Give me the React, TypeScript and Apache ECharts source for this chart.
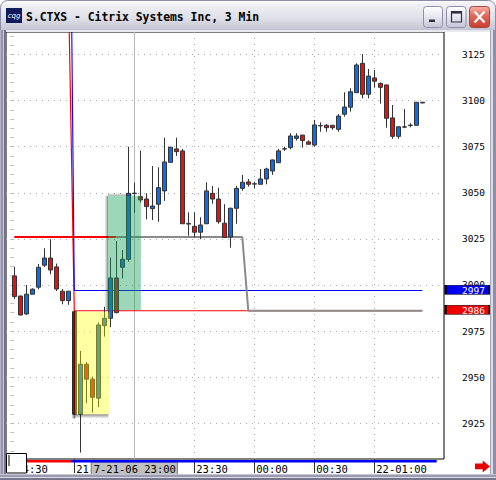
import React, { useEffect, useRef } from 'react';
import * as echarts from 'echarts';

const MONO = '"DejaVu Sans Mono", "Liberation Mono", monospace';

// S.CTXS 3-minute bars, one row per bar: [open, close, low, high]
const bars: number[][] = [
  [3004.9, 2993.7, 2992.4, 3009.8],
  [2994.0, 2983.7, 2983.5, 2994.2],
  [2984.3, 2995.0, 2983.7, 3000.0],
  [2995.0, 2997.7, 2995.0, 2998.2],
  [2998.8, 3009.6, 2997.7, 3011.4],
  [3010.7, 3014.6, 3009.8, 3019.9],
  [3014.6, 3008.1, 3005.8, 3024.8],
  [3009.8, 2997.8, 2996.7, 3011.6],
  [2996.6, 2991.5, 2989.5, 2997.8],
  [2991.5, 2996.6, 2989.2, 2996.6],
  [2985.5, 2929.9, 2929.5, 2986.0],
  [2929.9, 2957.0, 2909.1, 2964.2],
  [2957.0, 2948.9, 2935.8, 2958.1],
  [2948.9, 2939.1, 2930.8, 2950.3],
  [2938.6, 2978.3, 2933.7, 2979.6],
  [2977.9, 2981.9, 2972.0, 2988.2],
  [2981.9, 3003.8, 2977.1, 3014.8],
  [3003.8, 2985.0, 2984.6, 3023.9],
  [3009.6, 3013.9, 3003.6, 3019.0],
  [3013.9, 3049.7, 3012.6, 3075.0],
  [3049.8, 3049.6, 3039.2, 3055.5],
  [3047.9, 3046.1, 3044.6, 3072.8],
  [3046.6, 3042.5, 3035.6, 3049.7],
  [3041.4, 3042.8, 3035.2, 3064.5],
  [3043.8, 3052.8, 3034.3, 3063.8],
  [3051.0, 3066.7, 3045.6, 3079.9],
  [3066.5, 3074.7, 3066.4, 3074.9],
  [3073.8, 3072.3, 3070.0, 3079.9],
  [3072.7, 3033.2, 3033.2, 3073.8],
  [3033.4, 3033.0, 3026.7, 3039.4],
  [3031.8, 3028.6, 3025.7, 3039.4],
  [3028.6, 3032.5, 3024.8, 3036.7],
  [3033.2, 3051.0, 3033.0, 3055.7],
  [3049.7, 3046.6, 3044.1, 3053.7],
  [3046.6, 3034.3, 3033.2, 3052.8],
  [3033.5, 3025.7, 3025.7, 3043.8],
  [3026.0, 3041.6, 3020.2, 3041.9],
  [3041.6, 3052.4, 3033.2, 3053.7],
  [3052.4, 3055.7, 3051.1, 3059.7],
  [3055.9, 3054.6, 3053.3, 3057.5],
  [3054.9, 3054.7, 3052.4, 3056.0],
  [3054.6, 3057.5, 3054.6, 3062.9],
  [3057.5, 3062.9, 3054.6, 3063.6],
  [3061.8, 3067.8, 3059.7, 3068.0],
  [3066.3, 3072.7, 3066.3, 3073.8],
  [3073.9, 3073.7, 3072.7, 3075.0],
  [3074.5, 3080.8, 3073.6, 3082.3],
  [3079.5, 3080.8, 3078.3, 3082.3],
  [3081.3, 3078.3, 3074.5, 3081.3],
  [3077.6, 3076.3, 3076.3, 3078.5],
  [3075.9, 3086.8, 3075.0, 3089.5],
  [3086.5, 3086.3, 3083.1, 3088.2],
  [3086.6, 3085.3, 3083.1, 3087.3],
  [3086.6, 3085.3, 3084.2, 3086.8],
  [3084.4, 3091.6, 3083.1, 3092.7],
  [3092.6, 3096.5, 3091.3, 3104.5],
  [3096.4, 3104.8, 3094.0, 3106.7],
  [3104.3, 3119.3, 3104.3, 3120.2],
  [3120.2, 3103.4, 3101.2, 3125.3],
  [3103.4, 3113.3, 3101.2, 3117.1],
  [3112.3, 3110.5, 3107.0, 3116.6],
  [3109.3, 3107.2, 3098.3, 3109.9],
  [3108.5, 3090.4, 3085.3, 3108.5],
  [3090.6, 3080.6, 3079.2, 3097.6],
  [3080.6, 3085.8, 3079.3, 3086.0],
  [3085.8, 3085.6, 3085.0, 3095.4],
  [3086.7, 3086.5, 3085.5, 3087.7],
  [3086.6, 3099.1, 3086.5, 3099.2],
  [3099.1, 3098.7, 3098.6, 3099.2],
];

// time scale: bar index of each tick and its caption
const timeTicks = [0, 10, 30, 40, 50, 60];
const timeLabels = ['04:30', '21-22:30', '23:30', '00:00', '00:30', '22-01:00'];
const gridTimeTicks = [30, 40, 50, 60];

// price scale
const priceTicks = [2925, 2950, 2975, 3000, 3025, 3050, 3075, 3100, 3125];
const priceMin = 2905.6;
const priceMax = 3137.2;
const priceStep = 5;

// study lines, vertices as [bar, price]
const entryLevel = [[0, 3026], [17, 3026]];
const trailingStop = [[17, 3026], [38, 3026], [39, 2986], [68, 2986]];
const upperLevel = [[9, 3330], [10, 2997], [68, 2997]];
const lowerLevel = [[9, 3166], [10, 2986], [68, 2986]];
const upperTag = 2997;
const lowerTag = 2986;

// crosshair
const cursorBar = 20;
const cursorText = '7-21-06 23:00';

// highlighted zones: [barFrom, barTo, priceTop, priceBottom]
const yellowZone = [10.15, 15.9, 2985.5, 2929.9];
const greenZone = [15.62, 21.1, 3048.4, 2986.4];

const title = 'S.CTXS - Citrix Systems Inc, 3 Min';

const grad = (x2: number, y2: number, stops: [number, string][]) => ({
  type: 'linear', x: 0, y: 0, x2, y2,
  colorStops: stops.map(([offset, color]) => ({ offset, color })),
});

const area = (x0: number, x1: number, y0: number, y1: number, color: any) => [
  { xAxis: x0, yAxis: y0, itemStyle: { color } },
  { xAxis: x1, yAxis: y1 },
];

function buildOption() {
  const minorTicks: number[] = [];
  for (let v = 2910; v <= 3135; v += priceStep) minorTicks.push(v);

  const dotted = { type: [1, 5], color: '#a9a9a9', width: 1 };

  const [yx0, yx1, yTop, yBot] = yellowZone;
  const [gx0, gx1, gTop, gBot] = greenZone;

  const zones = [
    // soft edges cast by the highlight boxes
    area(yx0 - 0.62, yx0, yTop, yBot - 2.3,
      grad(1, 0, [[0, 'rgba(0,0,0,0)'], [0.55, 'rgba(0,0,0,0.35)'], [1, 'rgba(0,0,0,0.7)']])),
    area(yx0, yx1 - 0.2, yBot, yBot - 2.3,
      grad(0, 1, [[0, 'rgba(0,0,0,0.45)'], [1, 'rgba(0,0,0,0)']])),
    area(gx0 - 0.62, gx0, gTop, gBot,
      grad(1, 0, [[0, 'rgba(0,0,0,0)'], [0.6, 'rgba(0,0,0,0.22)'], [1, 'rgba(0,0,0,0.5)']])),
    area(gx0, gx1 - 1.5, gTop + 1.6, gTop,
      grad(0, 1, [[0, 'rgba(0,0,0,0)'], [1, 'rgba(0,0,0,0.3)']])),
    // the boxes themselves
    area(yx0, yx1, yTop, yBot, 'rgba(255,255,0,0.36)'),
    area(gx0, gx1, gTop, gBot, 'rgba(20,160,90,0.42)'),
  ];

  const tag = (value: number, fill: string, dy: number) => ({
    silent: true,
    symbol: 'rect',
    symbolSize: [44, 9],
    symbolOffset: [45.2, dy],
    itemStyle: { color: fill, borderColor: '#000', borderWidth: 1 },
    label: {
      show: true, position: 'inside', offset: [6, 0.5], color: '#fff',
      fontFamily: MONO, fontSize: 9.5, formatter: String(value),
    },
    data: [{ coord: [68, value], value }],
  });

  const lineBase = {
    type: 'line', showSymbol: false, symbol: 'none', silent: true,
    animation: false, z: 2,
  };

  const chrome: any[] = [
    // title bar
    {
      type: 'rect', z: 50, silent: true,
      shape: { x: 0.5, y: 0.5, width: 495, height: 30, r: [7, 7, 0, 0] },
      style: {
        fill: grad(0, 1, [[0, '#ffffff'], [0.12, '#f0f0f5'], [0.6, '#dfdfe8'], [1, '#c2c2d2']]),
        stroke: '#8c8ca4', lineWidth: 1,
      },
    },
    { type: 'rect', z: 50, silent: true, shape: { x: 0, y: 30, width: 496, height: 2 }, style: { fill: '#e8e8ef' } },
    // window frame: left, right, bottom
    { type: 'rect', z: 50, silent: true, shape: { x: 0, y: 30, width: 1, height: 450 }, style: { fill: '#b4b4c6' } },
    { type: 'rect', z: 50, silent: true, shape: { x: 1, y: 30, width: 2, height: 450 }, style: { fill: '#9494ac' } },
    { type: 'rect', z: 50, silent: true, shape: { x: 3, y: 30, width: 1, height: 450 }, style: { fill: '#c8c8d6' } },
    { type: 'rect', z: 50, silent: true, shape: { x: 4, y: 30, width: 2, height: 450 }, style: { fill: '#72728c' } },
    { type: 'rect', z: 50, silent: true, shape: { x: 490, y: 30, width: 1, height: 450 }, style: { fill: '#a4a4b8' } },
    { type: 'rect', z: 50, silent: true, shape: { x: 491, y: 30, width: 2, height: 450 }, style: { fill: '#dcdce6' } },
    { type: 'rect', z: 50, silent: true, shape: { x: 493, y: 30, width: 3, height: 450 }, style: { fill: '#8e8ea6' } },
    { type: 'rect', z: 50, silent: true, shape: { x: 0, y: 474, width: 496, height: 1 }, style: { fill: '#c4c4d2' } },
    { type: 'rect', z: 50, silent: true, shape: { x: 0, y: 475, width: 496, height: 2 }, style: { fill: '#9a9ab0' } },
    { type: 'rect', z: 50, silent: true, shape: { x: 0, y: 477, width: 496, height: 1 }, style: { fill: '#dadae4' } },
    { type: 'rect', z: 50, silent: true, shape: { x: 0, y: 478, width: 496, height: 2 }, style: { fill: '#76768e' } },
    // app icon
    { type: 'rect', z: 51, silent: true, shape: { x: 6, y: 8, width: 16, height: 15 }, style: { fill: '#101a5c' } },
    {
      type: 'text', z: 52, silent: true, x: 14, y: 15.5,
      style: { text: 'cqg', fill: '#ffffff', font: 'italic 7px "DejaVu Sans"', align: 'center', verticalAlign: 'middle' },
    },
    // caption
    {
      type: 'text', z: 52, silent: true, x: 26, y: 16.8,
      style: { text: title, fill: '#000000', font: `bold 11.4px ${MONO}`, verticalAlign: 'middle' },
    },
    // minimize
    {
      type: 'rect', z: 51, silent: true, shape: { x: 423.5, y: 6.5, width: 19, height: 21, r: 3 },
      style: { fill: grad(0, 1, [[0, '#ffffff'], [0.5, '#e6e6ef'], [1, '#c4c4d6']]), stroke: '#9090aa', lineWidth: 1 },
    },
    { type: 'rect', z: 52, silent: true, shape: { x: 429, y: 19.5, width: 6, height: 2.5 }, style: { fill: '#30304a' } },
    // maximize
    {
      type: 'rect', z: 51, silent: true, shape: { x: 446.5, y: 6.5, width: 19.5, height: 21, r: 3 },
      style: { fill: grad(0, 1, [[0, '#ffffff'], [0.5, '#e6e6ef'], [1, '#c4c4d6']]), stroke: '#9090aa', lineWidth: 1 },
    },
    { type: 'rect', z: 52, silent: true, shape: { x: 451.5, y: 11.5, width: 10, height: 10.5 }, style: { fill: 'none', stroke: '#30304a', lineWidth: 1.2 } },
    { type: 'rect', z: 52, silent: true, shape: { x: 451, y: 11, width: 11, height: 2.6 }, style: { fill: '#30304a' } },
    // close
    {
      type: 'rect', z: 51, silent: true, shape: { x: 469.5, y: 6.5, width: 20, height: 21, r: 3 },
      style: { fill: grad(0, 1, [[0, '#f6b3a6'], [0.45, '#e26656'], [1, '#c63f30']]), stroke: '#a24a48', lineWidth: 1 },
    },
    { type: 'line', z: 52, silent: true, shape: { x1: 474.5, y1: 11.5, x2: 484.5, y2: 22.5 }, style: { stroke: '#ffffff', lineWidth: 2.2 } },
    { type: 'line', z: 52, silent: true, shape: { x1: 484.5, y1: 11.5, x2: 474.5, y2: 22.5 }, style: { stroke: '#ffffff', lineWidth: 2.2 } },
    // scroll position strip under the plot
    { type: 'rect', z: 40, silent: true, shape: { x: 26.7, y: 460, width: 44.3, height: 2.5 }, style: { fill: '#ff0000' } },
    { type: 'rect', z: 40, silent: true, shape: { x: 71, y: 460, width: 365.7, height: 2.5 }, style: { fill: '#0000ff' } },
    // input box at lower left
    { type: 'rect', z: 41, silent: true, shape: { x: 6.5, y: 453.5, width: 20, height: 19.5 }, style: { fill: '#ffffff', stroke: '#000000', lineWidth: 1 } },
    { type: 'line', z: 42, silent: true, shape: { x1: 9, y1: 455, x2: 9, y2: 466 }, style: { stroke: '#000000', lineWidth: 1 } },
    // scroll arrow
    {
      type: 'polygon', z: 41, silent: true,
      shape: { points: [[475, 463.5], [482.7, 463.5], [482.7, 460.5], [490, 466.5], [482.7, 472.5], [482.7, 469.3], [475, 469.3]] },
      style: { fill: '#e80000' },
    },
  ];

  return {
    animation: false,
    backgroundColor: '#ffffff',
    grid: {
      left: 6, top: 32, right: 52, bottom: 21,
      show: true, backgroundColor: '#ffffff', borderColor: '#000000', borderWidth: 1,
      containLabel: false, outerBoundsMode: 'none',
    },
    xAxis: {
      type: 'value', min: -1.383, max: 71.617,
      axisLine: { show: false },
      splitLine: { show: false },
      axisTick: { show: true, customValues: timeTicks, length: 14, lineStyle: { color: '#333333', width: 1 } },
      axisLabel: {
        customValues: timeTicks,
        formatter: (v: number) => timeLabels[timeTicks.indexOf(Math.round(v))] ?? '',
        align: 'left', margin: 4, padding: [0, 0, 0, 2],
        color: '#000000', fontFamily: MONO, fontSize: 10.5,
      },
    },
    yAxis: {
      type: 'value', position: 'right', min: priceMin, max: priceMax, scale: true,
      axisLine: { show: false },
      splitLine: { show: false },
      axisTick: { show: true, inside: true, length: 4, customValues: minorTicks, lineStyle: { color: '#c0c0c0' } },
      axisLabel: {
        customValues: priceTicks, margin: 18,
        formatter: (v: number) => String(Math.round(v)),
        color: '#000000', fontFamily: MONO, fontSize: 9.5,
      },
    },
    graphic: { elements: chrome },
    series: [
      {
        // dotted grid and crosshair
        type: 'line', data: [], silent: true, clip: false, z: 1,
        markLine: {
          silent: true, z: 1, symbol: ['none', 'none'], animation: false,
          label: { show: false },
          data: [
            ...priceTicks.map((v) => ({ yAxis: v, lineStyle: dotted })),
            ...gridTimeTicks.map((v) => ({ xAxis: v, lineStyle: dotted })),
            {
              xAxis: cursorBar,
              lineStyle: { type: 'solid', color: '#b8b8b8', width: 1 },
              label: {
                show: true, position: 'start', distance: 3.5, formatter: cursorText,
                color: '#000000', fontFamily: MONO, fontSize: 10.5,
                backgroundColor: '#c0c0c0', borderColor: '#7a7a7a', borderWidth: 1,
                padding: [1, 1, 0, 2],
              },
            },
          ],
        },
      },
      {
        ...lineBase, data: lowerLevel,
        lineStyle: { color: '#ff0000', width: 1.2 },
        markPoint: tag(lowerTag, '#f00000', -1.1),
      },
      {
        ...lineBase, data: upperLevel,
        lineStyle: { color: '#0000ff', width: 1.1 },
        markPoint: tag(upperTag, '#0000f0', -0.8),
      },
      { ...lineBase, data: trailingStop, lineStyle: { color: '#8a8a8a', width: 2 } },
      { ...lineBase, data: entryLevel, lineStyle: { color: '#ff0000', width: 2 } },
      {
        type: 'candlestick', z: 3, silent: true, barWidth: 4.4,
        encode: { x: 0, y: [1, 2, 3, 4] },
        data: bars.map((b, i) => [i, b[0], b[1], b[2], b[3]]),
        itemStyle: {
          color: '#0a6cf0', color0: '#e81010',
          borderColor: '#333333', borderColor0: '#333333', borderWidth: 1,
        },
      },
      {
        type: 'line', data: [], silent: true, z: 4,
        markArea: { silent: true, z: 4, label: { show: false }, data: zones },
      },
    ],
  };
}

export default function App() {
  const ref = useRef<HTMLDivElement>(null);
  useEffect(() => {
    if (!ref.current) return;
    const chart = echarts.init(ref.current, null, { renderer: 'svg' });
    chart.setOption(buildOption() as any);
    return () => chart.dispose();
  }, []);
  return (
    <div
      ref={ref}
      style={{ position: 'fixed', left: 0, top: 0, width: 496, height: 480 }}
    />
  );
}
